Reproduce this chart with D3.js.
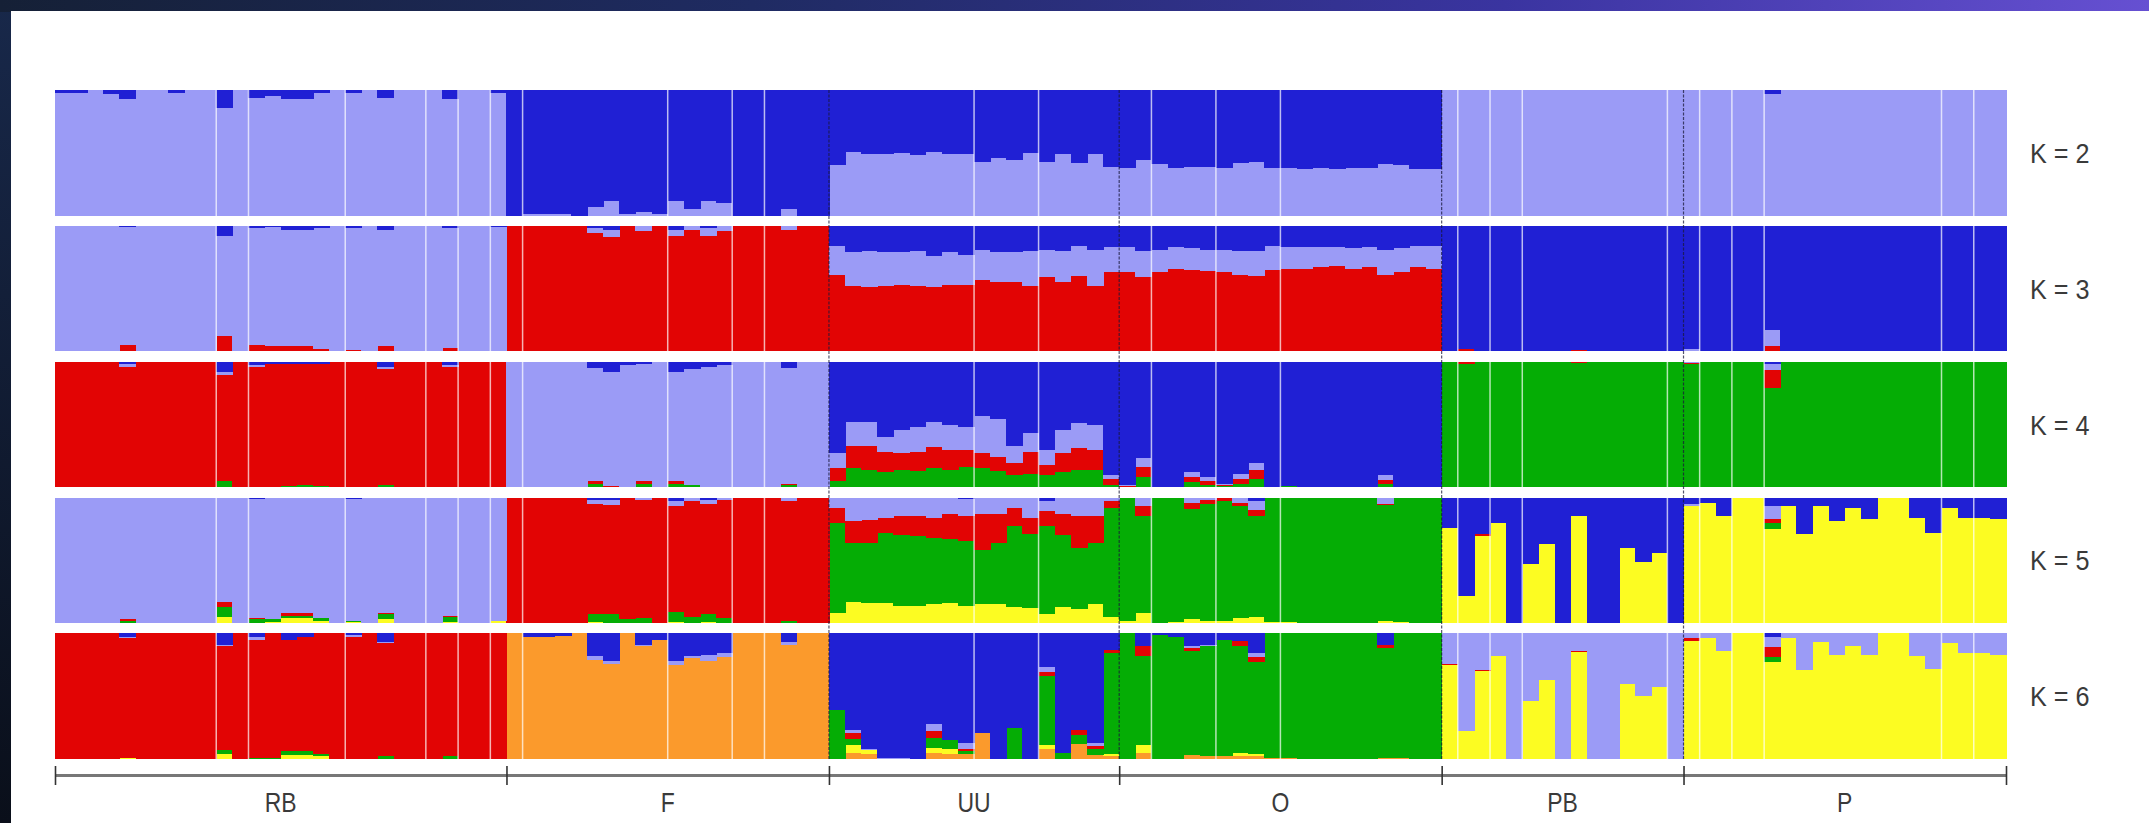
<!DOCTYPE html>
<html>
<head>
<meta charset="utf-8">
<script src="https://cdn.jsdelivr.net/npm/d3@7"></script>
<style>
  html, body { margin: 0; padding: 0; background: #ffffff; }
  svg { display: block; }
</style>
</head>
<body>
<div id="chart"></div>
<script>
// ---------------- DATA ----------------
// Populations (groups) and the number of individuals in each
const groupNames = ["RB", "F", "UU", "O", "PB", "P"];
const groupSizes = [28, 20, 18, 20, 15, 20];
// Row labels
const kLabels = ["K = 2", "K = 3", "K = 4", "K = 5", "K = 6"];
// Sampling-site separators (index of first individual after a white line)
const siteBreaks = [10, 12, 18, 23, 25, 27, 29, 38, 42, 44, 57, 61, 68, 72, 76, 87, 89, 91, 100, 102, 104, 106, 117, 119];
// Cluster colours
const clusterColors = { orange: "#fb9a2c", yellow: "#fcfc22", green: "#05ad05", red: "#e20404", lav: "#9b9bf6", blue: "#2020d4" };

// Membership (%) per individual. Order of individuals: RB | F | UU | O | PB | P
// K = 2  (lav = remainder)
const k2Blue = [
  2,2,0,3,7,0,0,2,0,0,14,0,6,5,7,7,2,0,2,0,6,0,0,0,7,0,0,2,
  100,99,99,99,100,93,88,99,97,99,88,95,88,90,100,100,100,95,100,100,
  60,49,51,51,50,52,49,51,51,57,54,56,50,57,51,58,51,61,
  62,56,59,62,61,61,62,58,57,62,62,63,62,63,62,62,59,60,63,63,
  0,0,0,0,0,0,0,0,0,0,0,0,0,0,0,
  0,0,0,0,0,3,0,0,0,0,0,0,0,0,0,0,0,0,0,0];

// K = 3  (lav = remainder)
const k3Blue = [
  0,0,0,0,1,0,0,0,0,0,8,0,2,1,3,3,2,0,2,0,3,0,0,0,2,0,0,1,
  0,0,0,0,0,2,3,0,0,0,3,0,2,0,0,0,0,0,0,0,
  16,21,20,21,21,20,24,21,23,19,21,21,20,19,20,16,19,17,
  17,20,19,17,18,19,19,20,20,16,17,17,17,17,18,17,19,18,16,16,
  100,98,100,100,100,100,100,100,99,100,100,100,100,100,100,
  98,100,100,100,100,83,100,100,100,100,100,100,100,100,100,100,100,100,100,100];
const k3Red = [
  0,0,0,0,5,0,0,0,0,0,12,0,5,4,4,4,2,0,1,0,4,0,0,0,3,0,0,0,
  100,100,100,100,100,94,91,100,96,100,92,97,92,96,100,100,100,97,100,100,
  61,52,51,52,53,52,51,53,53,57,55,55,52,59,55,60,52,63,
  63,59,63,66,65,64,63,61,60,65,66,66,67,68,66,67,61,63,67,66,
  0,2,0,0,0,0,0,0,1,0,0,0,0,0,0,
  0,0,0,0,0,4,0,0,0,0,0,0,0,0,0,0,0,0,0,0];

// K = 4  (red = remainder)
const k4Blue = [
  0,0,0,0,2,0,0,0,0,0,8,0,3,2,2,2,2,0,0,0,4,0,0,0,3,0,0,0,
  0,0,0,0,0,5,8,3,2,0,8,6,4,3,0,0,0,5,0,0,
  73,48,48,60,54,52,48,50,52,43,46,67,57,70,54,49,50,90,
  98,77,100,100,88,92,97,89,81,100,99,100,100,100,100,100,90,100,100,100,
  0,0,0,0,0,0,0,0,0,0,0,0,0,0,0,
  0,0,0,0,0,2,0,0,0,0,0,0,0,0,0,0,0,0,0,0];
const k4Lav = [
  0,0,0,0,2,0,0,0,0,0,3,0,1,0,0,0,0,0,0,0,2,0,0,0,1,0,0,0,
  100,100,100,100,100,90,91,97,93,100,87,92,96,97,100,100,100,92,100,100,
  12,19,19,12,19,20,20,20,18,30,30,14,15,12,19,20,20,3,
  1,7,0,0,4,3,1,4,5,0,0,0,0,0,0,0,4,0,0,0,
  0,0,0,0,0,0,0,0,0,0,0,0,0,0,0,
  1,0,0,0,0,5,0,0,0,0,0,0,0,0,0,0,0,0,0,0];
const k4Green = [
  0,0,0,0,0,0,0,0,0,0,5,0,0,0,1,2,1,0,0,0,2,0,0,0,0,0,0,0,
  0,0,0,0,0,3,0,0,3,0,3,2,0,0,0,0,0,2,0,0,
  5,15,14,12,14,13,15,14,16,15,13,10,11,10,12,14,14,2,
  0,8,0,0,4,2,1,3,7,0,1,0,0,0,0,0,3,0,0,0,
  100,98,100,100,100,100,100,100,99,100,100,100,100,100,100,
  98,100,100,100,100,79,100,100,100,100,100,100,100,100,100,100,100,100,100,100];

// K = 5  (lav = remainder)
const k5Blue = [
  0,0,0,0,0,0,0,0,0,0,0,0,1,0,0,0,0,0,1,0,0,0,0,0,0,0,0,0,
  0,0,0,0,0,2,2,0,0,0,3,0,2,0,0,0,0,0,0,0,
  0,0,0,0,0,0,0,0,1,0,0,0,0,3,0,0,0,0,
  0,0,0,0,0,0,0,0,3,0,0,0,0,0,0,0,0,0,0,0,
  24,78,29,20,100,53,37,100,15,100,100,40,51,44,100,
  5,4,15,0,0,7,7,29,7,19,8,17,0,0,16,28,8,16,16,17];
const k5Red = [
  0,0,0,0,1,0,0,0,0,0,4,0,1,0,2,2,0,0,0,0,1,0,0,0,1,0,0,0,
  100,100,100,100,100,88,87,97,94,100,84,92,88,94,100,100,100,95,100,100,
  12,17,18,12,15,16,16,20,20,29,23,15,13,12,17,25,21,5,
  0,8,0,0,5,3,3,3,5,0,0,0,0,0,0,0,1,0,0,0,
  0,0,2,0,0,0,0,0,0,0,0,0,0,0,0,
  0,0,0,0,0,3,0,0,0,0,0,0,0,0,0,0,0,0,0,0];
const k5Green = [
  0,0,0,0,2,0,0,0,0,0,8,0,3,2,2,2,2,0,1,0,4,0,0,0,4,0,0,0,
  0,0,0,0,0,6,7,3,4,0,8,5,6,4,0,0,0,2,0,0,
  72,47,48,56,56,55,53,51,51,43,49,64,59,70,57,49,49,87,
  98,77,100,99,88,93,95,89,80,99,99,100,100,100,100,100,92,99,100,100,
  0,0,0,0,0,0,0,0,0,0,0,0,0,0,0,
  0,0,0,0,0,5,0,0,0,0,0,0,0,0,0,0,0,0,0,0];
const k5Yellow = [
  0,0,0,0,0,0,0,0,0,0,5,0,0,1,4,4,2,0,1,0,3,0,0,0,1,0,0,2,
  0,0,0,0,0,1,0,0,0,0,1,0,1,0,0,0,0,0,0,0,
  8,17,16,16,14,14,15,16,14,15,15,13,12,7,13,11,15,5,
  2,8,0,1,3,2,2,4,5,1,1,0,0,0,0,0,2,1,0,0,
  76,22,69,80,0,47,63,0,85,0,0,60,49,56,0,
  93,96,85,100,100,75,93,71,93,81,92,83,100,100,84,72,92,84,84,83];

// K = 6  (red = remainder)
const k6Blue = [
  0,0,0,0,3,0,0,0,0,0,9,0,3,0,5,3,0,0,1,0,7,0,0,0,0,0,0,0,
  0,3,3,2,0,18,22,0,9,5,22,18,17,16,0,0,0,7,0,0,
  61,77,92,99,99,100,72,85,87,79,100,75,100,27,95,77,87,13,
  0,10,1,3,10,9,5,6,16,0,0,0,0,0,0,0,9,0,0,0,
  0,0,0,0,0,0,0,0,0,0,0,0,0,0,0,
  0,0,0,0,0,3,0,0,0,0,0,0,0,0,0,0,0,0,0,0];
const k6Lav = [
  0,0,0,0,1,0,0,0,0,0,1,0,2,0,0,0,0,0,2,0,1,0,0,0,0,0,0,0,
  0,0,0,0,0,3,2,0,1,0,3,2,5,3,0,0,0,2,0,0,
  0,2,1,1,1,0,6,0,5,0,0,0,0,4,0,0,3,0,
  0,0,0,0,2,1,0,0,3,0,0,0,0,0,0,0,0,0,0,0,
  24,78,29,18,100,54,37,100,14,100,100,40,50,43,100,
  4,4,14,0,0,8,4,29,7,17,10,17,0,0,18,28,8,16,16,17];
const k6Green = [
  0,0,0,0,0,0,0,0,0,0,3,0,1,1,3,3,2,0,0,0,2,0,0,0,2,0,0,0,
  0,0,0,0,0,0,0,0,0,0,0,0,0,0,0,0,0,0,0,0,
  39,5,0,0,0,0,8,7,2,0,0,25,0,55,5,7,5,80,
  100,71,99,97,83,88,93,85,73,99,99,100,100,100,100,100,87,99,100,100,
  0,0,0,0,0,0,0,0,0,0,0,0,0,0,0,
  0,0,0,0,0,4,0,0,0,0,0,0,0,0,0,0,0,0,0,0];
const k6Yellow = [
  0,0,0,0,1,0,0,0,0,0,4,0,0,0,3,3,2,0,0,0,0,0,0,0,0,0,0,0,
  0,0,0,0,0,0,0,0,0,0,0,0,0,0,0,0,0,0,0,0,
  0,6,3,0,0,0,4,4,0,0,0,0,0,3,0,0,0,2,
  0,6,0,0,0,0,0,3,2,0,0,0,0,0,0,0,0,0,0,0,
  75,22,70,82,0,46,63,0,85,0,0,60,50,57,0,
  94,96,86,100,100,77,96,71,93,83,90,83,100,100,82,72,92,84,84,83];
const k6Orange = [
  0,0,0,0,0,0,0,0,0,0,0,0,0,0,0,0,0,0,0,0,0,0,0,0,0,0,0,0,
  100,97,97,98,100,79,76,100,90,95,75,80,78,81,100,100,100,91,100,100,
  0,5,4,0,0,0,5,4,4,21,0,0,0,8,0,12,3,2,
  0,5,0,0,3,2,2,2,2,1,1,0,0,0,0,0,1,1,0,0,
  0,0,0,0,0,0,0,0,0,0,0,0,0,0,0,
  0,0,0,0,0,0,0,0,0,0,0,0,0,0,0,0,0,0,0,0];

// Per-row definition: stacking order (bottom -> top), stored series, remainder cluster
const rowsDef = [
  { label: kLabels[0], order: ["lav", "blue"], series: { blue: k2Blue }, rest: "lav" },
  { label: kLabels[1], order: ["red", "lav", "blue"], series: { blue: k3Blue, red: k3Red }, rest: "lav" },
  { label: kLabels[2], order: ["green", "red", "lav", "blue"], series: { blue: k4Blue, lav: k4Lav, green: k4Green }, rest: "red" },
  { label: kLabels[3], order: ["yellow", "green", "red", "lav", "blue"], series: { blue: k5Blue, red: k5Red, green: k5Green, yellow: k5Yellow }, rest: "lav" },
  { label: kLabels[4], order: ["orange", "yellow", "green", "red", "lav", "blue"], series: { blue: k6Blue, lav: k6Lav, green: k6Green, yellow: k6Yellow, orange: k6Orange }, rest: "red" }
];

// ---------------- DRAW ----------------
const W = 2149, H = 823;
const N = d3.sum(groupSizes);
const svg = d3.select("#chart").append("svg").attr("width", W).attr("height", H);
const FONT = "'Liberation Sans', Arial, sans-serif";

// textured dark frame
const defs = svg.append("defs");
const g1 = defs.append("linearGradient").attr("id", "topgrad").attr("x1", 0).attr("x2", 1).attr("y1", 0).attr("y2", 0);
g1.append("stop").attr("offset", 0).attr("stop-color", "#152036");
g1.append("stop").attr("offset", 0.35).attr("stop-color", "#1f2b62");
g1.append("stop").attr("offset", 0.7).attr("stop-color", "#3a34a0");
g1.append("stop").attr("offset", 1).attr("stop-color", "#6650d2");
const g2 = defs.append("linearGradient").attr("id", "leftgrad").attr("x1", 0).attr("x2", 0).attr("y1", 0).attr("y2", 1);
g2.append("stop").attr("offset", 0).attr("stop-color", "#18284a");
g2.append("stop").attr("offset", 1).attr("stop-color", "#0a0f1a");
svg.append("rect").attr("width", W).attr("height", H).attr("fill", "url(#leftgrad)");
svg.append("rect").attr("width", W).attr("height", 12).attr("fill", "url(#topgrad)");
svg.append("rect").attr("x", 11).attr("y", 11).attr("width", W - 11).attr("height", H - 11).attr("fill", "#ffffff");

const x = d3.scaleBand().domain(d3.range(N)).range([55, 2006]).paddingInner(0).paddingOuter(0);
const xl = d3.scaleLinear().domain([0, N]).range([55, 2006]);
const yRow = d3.scaleBand().domain(kLabels).range([90, 759]).paddingInner(0.075).paddingOuter(0);

rowsDef.forEach(def => {
  const rows = d3.range(N).map(i => {
    const o = {};
    let s = 0;
    Object.keys(def.series).forEach(k => { o[k] = def.series[k][i]; s += o[k]; });
    o[def.rest] = Math.max(0, 100 - s);
    return o;
  });
  const stack = d3.stack().keys(def.order)(rows);
  const top = yRow(def.label), bot = top + yRow.bandwidth();
  const y = d3.scaleLinear().domain([0, 100]).range([bot, top]);
  const g = svg.append("g");
  g.selectAll("g").data(stack).join("g")
    .attr("fill", d => clusterColors[d.key])
    .selectAll("rect").data(d => d.map((v, i) => ({ v, i })))
    .join("rect")
    .attr("x", d => x(d.i))
    .attr("width", x.bandwidth() + 0.6)
    .attr("y", d => y(d.v[1]))
    .attr("height", d => Math.max(0, y(d.v[0]) - y(d.v[1])))
    .attr("shape-rendering", "crispEdges");

  // K label
  svg.append("text")
    .attr("transform", `translate(2030,${top + yRow.bandwidth() / 2 + 10}) scale(0.9,1)`)
    .attr("font-family", FONT)
    .attr("font-size", 28).attr("fill", "#3a3a3a")
    .text(def.label);
});

// separators inside the plot
const groupStarts = d3.cumsum([0].concat(groupSizes)).slice(0, groupSizes.length + 1);
const plotTop = 90, plotBot = 759;
svg.append("g").selectAll("line").data(siteBreaks).join("line")
  .attr("x1", d => x(d)).attr("x2", d => x(d))
  .attr("y1", plotTop).attr("y2", plotBot)
  .attr("stroke", "#ffffff").attr("stroke-opacity", 0.7).attr("stroke-width", 1.5);
svg.append("g").selectAll("line").data(groupStarts.slice(2, groupSizes.length)).join("line")
  .attr("x1", d => x(d)).attr("x2", d => x(d))
  .attr("y1", plotTop).attr("y2", plotBot)
  .attr("stroke", "#1a1a3a").attr("stroke-opacity", 0.75).attr("stroke-width", 1.2)
  .attr("stroke-dasharray", "3,1.5");

// bottom axis with group ticks
const axisY = 775;
const axis = d3.axisBottom(xl).tickValues(groupStarts).tickFormat("").tickSizeOuter(0).tickSizeInner(10);
const ag = svg.append("g").attr("transform", `translate(0,${axisY})`).call(axis);
ag.select(".domain").attr("stroke", "#777777").attr("stroke-width", 3);
ag.selectAll(".tick line").attr("y1", -9).attr("y2", 10).attr("stroke", "#333").attr("stroke-width", 1.6);

svg.append("g").selectAll("text").data(groupNames).join("text")
  .attr("transform", (d, i) => `translate(${xl((groupStarts[i] + groupStarts[i + 1]) / 2)},812) scale(0.82,1)`)
  .attr("text-anchor", "middle")
  .attr("font-family", FONT)
  .attr("font-size", 28).attr("fill", "#3a3a3a")
  .text(d => d);
</script>
</body>
</html>
